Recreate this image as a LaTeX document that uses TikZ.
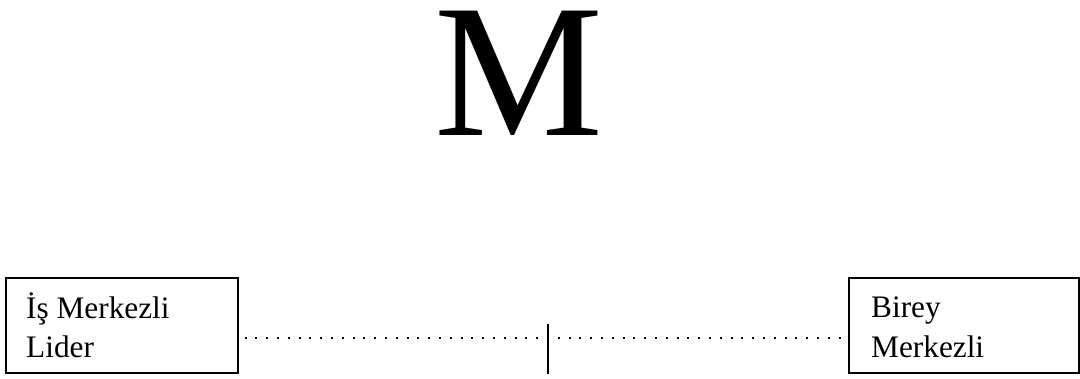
\documentclass[tikz,border=0pt]{standalone}
\usepackage{fontspec}
\setmainfont{Liberation Serif}
\begin{document}
\begin{tikzpicture}[x=1pt,y=1pt,
  box/.style={draw=black,line width=1.3pt,inner sep=0pt},
  boxtext/.style={anchor=base west,inner sep=0pt,font=\fontsize{31.3}{38}\selectfont},
  dotline/.style={line width=2pt,dash pattern=on 2pt off 8.8pt},
  tick/.style={line width=1.5pt}]
\useasboundingbox (0,0) rectangle (1080,379);
% big letter
\node[anchor=base,inner sep=0pt,font=\fontsize{190}{190}\selectfont] (M) at (518.5,243) {M};
% boxes
\node[box,minimum width=232pt,minimum height=95pt] (L) at (122,53.5) {};
\node[box,minimum width=230pt,minimum height=95pt] (R) at (964,53.5) {};
\node[boxtext] (l1) at (26,60) {İş Merkezli};
\node[boxtext] (l2) at (26,21) {Lider};
\node[boxtext] (r1) at (871,61) {Birey};
\node[boxtext] (r2) at (871,21) {Merkezli};
% dotted connector
\coordinate (ds) at ([xshift=6pt]L.east |- 0,41);
\coordinate (de) at ([xshift=-4pt]R.west |- 0,41);
\draw[dotline] (ds) -- (de);
% centre tick
\coordinate (t1) at (548,55);
\coordinate (t2) at (548,5);
\draw[tick] (t1) -- (t2);
\end{tikzpicture}
\end{document}
